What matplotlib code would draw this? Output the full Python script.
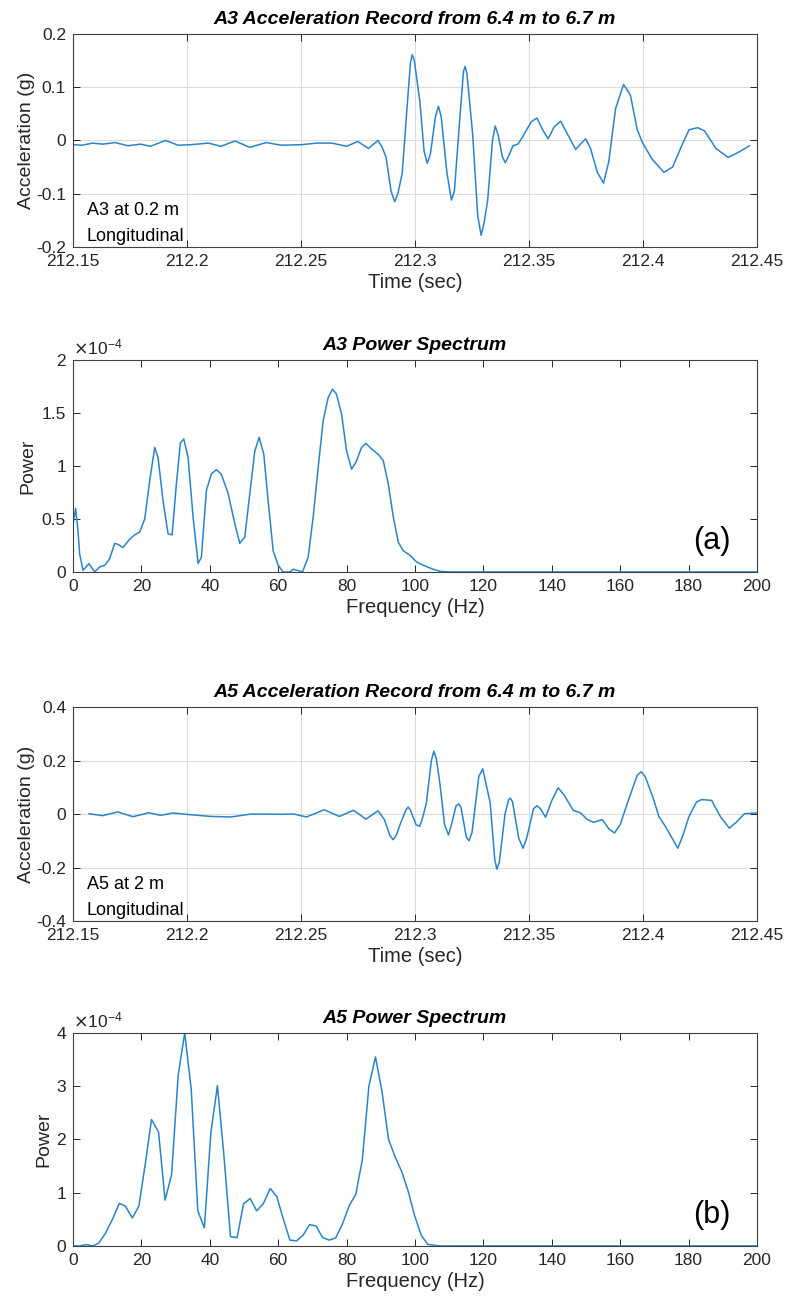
import numpy as np
import matplotlib.pyplot as plt

plt.rcParams['font.family'] = ['Liberation Sans', 'DejaVu Sans']
plt.rcParams['axes.unicode_minus'] = False

# A3 acceleration record (time in s, acceleration in g)
a3_t = [212.1500, 212.1540, 212.1586, 212.1630, 212.1685, 212.1741, 212.1796, 212.1840,
        212.1906, 212.1961, 212.2017, 212.2094, 212.2149, 212.2211, 212.2275, 212.2348,
        212.2414, 212.2502, 212.2568, 212.2635, 212.2701, 212.2749, 212.2796, 212.2838,
        212.2855, 212.2873, 212.2895, 212.2911, 212.2925, 212.2944, 212.2965, 212.2980,
        212.2988, 212.2997, 212.3021, 212.3040, 212.3054, 212.3068, 212.3090, 212.3103,
        212.3115, 212.3140, 212.3160, 212.3173, 212.3200, 212.3213, 212.3220, 212.3228,
        212.3253, 212.3275, 212.3290, 212.3303, 212.3319, 212.3340, 212.3352, 212.3365,
        212.3383, 212.3396, 212.3410, 212.3430, 212.3451, 212.3470, 212.3510, 212.3535,
        212.3560, 212.3584, 212.3610, 212.3639, 212.3665, 212.3705, 212.3730, 212.3749,
        212.3770, 212.3800, 212.3827, 212.3850, 212.3880, 212.3915, 212.3945, 212.3975,
        212.3999, 212.4040, 212.4092, 212.4130, 212.4170, 212.4202, 212.4240, 212.4270,
        212.4320, 212.4374, 212.4420, 212.4467]
a3_acc = [-0.008, -0.009, -0.005, -0.007, -0.004, -0.010, -0.007, -0.011,
          0.000, -0.009, -0.008, -0.005, -0.011, -0.001, -0.013, -0.004,
          -0.009, -0.008, -0.005, -0.005, -0.011, -0.002, -0.015, 0.000,
          -0.012, -0.031, -0.095, -0.115, -0.100, -0.062, 0.060, 0.145,
          0.161, 0.150, 0.075, -0.020, -0.043, -0.025, 0.045, 0.064,
          0.045, -0.060, -0.112, -0.095, 0.060, 0.130, 0.139, 0.125,
          0.012, -0.140, -0.178, -0.155, -0.112, 0.000, 0.027, 0.010,
          -0.030, -0.042, -0.030, -0.010, -0.007, 0.005, 0.035, 0.042,
          0.020, 0.003, 0.025, 0.036, 0.015, -0.017, -0.005, 0.003,
          -0.015, -0.060, -0.080, -0.040, 0.060, 0.105, 0.085, 0.020,
          -0.005, -0.035, -0.060, -0.050, -0.010, 0.020, 0.024, 0.018,
          -0.015, -0.032, -0.022, -0.010]

# A3 power spectrum (Hz, x1e-4)
a3_f = [0.0, 0.78, 1.46, 1.95, 2.93, 3.9, 4.68, 5.37, 6.34, 7.8, 9.27, 10.73, 12.2, 13.17,
        14.63, 16.59, 18.05, 19.5, 20.98, 22.44, 23.9, 24.88, 26.34, 27.8, 28.98, 30.24,
        31.41, 32.39, 33.66, 35.12, 36.59, 37.56, 39.02, 40.49, 41.95, 43.41, 45.37, 47.32,
        48.78, 50.24, 51.71, 53.17, 54.44, 55.8, 57.07, 58.54, 60.0, 61.46, 63.41, 64.39,
        65.56, 67.12, 68.78, 70.24, 71.71, 73.17, 74.63, 75.9, 77.07, 78.54, 80.0, 81.46,
        82.73, 84.39, 85.66, 87.32, 89.27, 90.73, 92.2, 93.66, 95.12, 96.59, 98.54, 100.49,
        102.44, 105.37, 107.32, 110.24, 200.0]
a3_pow = [0.44, 0.60, 0.39, 0.17, 0.016, 0.05, 0.078, 0.047, 0.0, 0.047, 0.063, 0.125, 0.27, 0.26,
          0.23, 0.31, 0.35, 0.376, 0.50, 0.86, 1.175, 1.08, 0.67, 0.36, 0.35, 0.83,
          1.22, 1.254, 1.08, 0.52, 0.08, 0.14, 0.77, 0.925, 0.966, 0.92, 0.74, 0.455,
          0.27, 0.33, 0.74, 1.14, 1.27, 1.11, 0.67, 0.20, 0.063, 0.0, 0.0, 0.025,
          0.016, 0.0, 0.14, 0.52, 0.99, 1.43, 1.646, 1.724, 1.677, 1.49, 1.144, 0.97,
          1.034, 1.175, 1.213, 1.16, 1.11, 1.05, 0.83, 0.52, 0.28, 0.20, 0.157, 0.094,
          0.063, 0.025, 0.006, 0.0, 0.0]

# A5 acceleration record
a5_t = [212.1571, 212.1630, 212.1696, 212.1763, 212.1833, 212.1884, 212.1939, 212.1994,
        212.2105, 212.2193, 212.2281, 212.2414, 212.2469, 212.2524, 212.2602, 212.2668,
        212.2730, 212.2785, 212.2838, 212.2866, 212.2890, 212.2904, 212.2918, 212.2937,
        212.2960, 212.2970, 212.2980, 212.3005, 212.3021, 212.3035, 212.3050, 212.3072,
        212.3083, 212.3094, 212.3109, 212.3130, 212.3147, 212.3160, 212.3180, 212.3191,
        212.3202, 212.3225, 212.3237, 212.3250, 212.3280, 212.3297, 212.3310, 212.3330,
        212.3350, 212.3359, 212.3370, 212.3395, 212.3410, 212.3418, 212.3428, 212.3455,
        212.3474, 212.3490, 212.3520, 212.3535, 212.3550, 212.3573, 212.3600, 212.3628,
        212.3655, 212.3694, 212.3727, 212.3755, 212.3783, 212.3822, 212.3850, 212.3875,
        212.3900, 212.3937, 212.3975, 212.3992, 212.4010, 212.4047, 212.4070, 212.4096,
        212.4153, 212.4175, 212.4202, 212.4235, 212.4257, 212.4301, 212.4340, 212.4379,
        212.4410, 212.4445, 212.4500]
a5_acc = [0.001, -0.006, 0.008, -0.010, 0.005, -0.005, 0.004, -0.001,
          -0.009, -0.011, 0.000, -0.001, 0.000, -0.011, 0.016, -0.009,
          0.014, -0.019, 0.012, -0.021, -0.080, -0.096, -0.080, -0.034,
          0.015, 0.026, 0.015, -0.040, -0.046, -0.010, 0.041, 0.200,
          0.235, 0.205, 0.116, -0.040, -0.078, -0.040, 0.030, 0.038,
          0.025, -0.085, -0.100, -0.070, 0.140, 0.169, 0.120, 0.041,
          -0.170, -0.206, -0.180, 0.000, 0.052, 0.060, 0.045, -0.090,
          -0.128, -0.090, 0.020, 0.031, 0.020, -0.012, 0.050, 0.098,
          0.070, 0.014, 0.004, -0.020, -0.031, -0.021, -0.055, -0.071,
          -0.040, 0.054, 0.145, 0.158, 0.140, 0.054, -0.010, -0.043,
          -0.128, -0.080, -0.009, 0.045, 0.054, 0.051, -0.010, -0.053,
          -0.030, 0.001, 0.004]

# A5 power spectrum (Hz, x1e-4)
a5_f = [0.0, 2.06, 3.83, 5.74, 7.51, 9.42, 11.63, 13.54, 15.31, 17.37, 19.28, 21.19, 22.96,
        25.02, 26.93, 28.84, 30.76, 32.67, 34.58, 36.5, 38.41, 40.32, 42.24, 44.15, 46.06,
        47.98, 49.89, 51.8, 53.72, 55.63, 57.69, 59.6, 61.52, 63.43, 65.34, 67.26, 69.17,
        71.08, 73.0, 74.91, 76.82, 78.88, 80.79, 82.71, 84.62, 86.53, 88.45, 90.36, 92.27,
        94.19, 96.1, 98.01, 99.93, 101.84, 103.75, 105.67, 107.58, 200.0]
a5_pow = [0.0, 0.0, 0.025, 0.0, 0.05, 0.23, 0.51, 0.80, 0.75, 0.525, 0.75, 1.56, 2.375,
          2.14, 0.86, 1.34, 3.2, 4.0, 2.94, 0.66, 0.34, 2.125, 3.01, 1.69, 0.175,
          0.156, 0.79, 0.89, 0.66, 0.79, 1.08, 0.925, 0.5, 0.11, 0.094, 0.2, 0.4,
          0.375, 0.156, 0.11, 0.15, 0.425, 0.76, 0.97, 1.625, 3.0, 3.55, 2.9, 2.0,
          1.675, 1.4, 1.03, 0.5625, 0.2, 0.03, 0.012, 0.0, 0.0]

time_ticks = [212.15, 212.2, 212.25, 212.3, 212.35, 212.4, 212.45]
time_labels = ['212.15', '212.2', '212.25', '212.3', '212.35', '212.4', '212.45']
freq_ticks = [0, 20, 40, 60, 80, 100, 120, 140, 160, 180, 200]

line_c = '#2a84cc'
txt_c = '#262626'

fig = plt.figure(figsize=(7.88, 13.10), dpi=100)
L, W = 0.0926, 0.868
ax1 = fig.add_axes([L, 0.8115, W, 0.1626])
ax2 = fig.add_axes([L, 0.5634, W, 0.1618])
ax3 = fig.add_axes([L, 0.2969, W, 0.1634])
ax4 = fig.add_axes([L, 0.0489, W, 0.1626])


def style(ax, grid):
    for s in ax.spines.values():
        s.set_color('#404040')
        s.set_linewidth(0.8)
    ax.tick_params(direction='in', top=True, right=True, length=5, width=0.7,
                   labelsize=12.5, colors=txt_c, pad=5)
    if grid:
        ax.grid(True, color='#dcdcdc', linewidth=0.8)
        ax.set_axisbelow(True)


tfont = dict(fontsize=14, fontweight='bold', style='italic')

# panel 1
ax1.plot(a3_t, a3_acc, color=line_c, lw=1.1)
ax1.set_xlim(212.15, 212.45)
ax1.set_ylim(-0.2, 0.2)
ax1.set_xticks(time_ticks)
ax1.set_xticklabels(time_labels)
ax1.set_yticks([-0.2, -0.1, 0, 0.1, 0.2])
ax1.set_yticklabels(['-0.2', '-0.1', '0', '0.1', '0.2'])
style(ax1, True)
ax1.set_title('A3 Acceleration Record from 6.4 m to 6.7 m', pad=7, **tfont)
ax1.set_xlabel('Time (sec)', fontsize=14.5, color=txt_c, labelpad=3)
ax1.set_ylabel('Acceleration (g)', fontsize=14, color=txt_c, labelpad=1)
ax1.text(0.02, 0.17, 'A3 at 0.2 m', transform=ax1.transAxes, fontsize=13,
         va='center', color='black')
ax1.text(0.02, 0.05, 'Longitudinal', transform=ax1.transAxes, fontsize=13,
         va='center', color='black')

# panel 2
ax2.plot(a3_f, a3_pow, color=line_c, lw=1.1)
ax2.set_xlim(0, 200)
ax2.set_ylim(0, 2)
ax2.set_xticks(freq_ticks)
ax2.set_yticks([0, 0.5, 1, 1.5, 2])
ax2.set_yticklabels(['0', '0.5', '1', '1.5', '2'])
style(ax2, False)
ax2.set_title('A3 Power Spectrum', pad=7, **tfont)
ax2.set_xlabel('Frequency (Hz)', fontsize=14.5, color=txt_c, labelpad=3)
ax2.set_ylabel('Power', fontsize=14, color=txt_c, labelpad=4)
ax2.text(0.0, 1.012, r'$\times\mathregular{10^{-4}}$', transform=ax2.transAxes,
         fontsize=12.5, color=txt_c, ha='left', va='bottom')
ax2.text(0.934, 0.146, '(a)', transform=ax2.transAxes, fontsize=22,
         ha='center', va='center', color='black')

# panel 3
ax3.plot(a5_t, a5_acc, color=line_c, lw=1.1)
ax3.set_xlim(212.15, 212.45)
ax3.set_ylim(-0.4, 0.4)
ax3.set_xticks(time_ticks)
ax3.set_xticklabels(time_labels)
ax3.set_yticks([-0.4, -0.2, 0, 0.2, 0.4])
ax3.set_yticklabels(['-0.4', '-0.2', '0', '0.2', '0.4'])
style(ax3, True)
ax3.set_title('A5 Acceleration Record from 6.4 m to 6.7 m', pad=7, **tfont)
ax3.set_xlabel('Time (sec)', fontsize=14.5, color=txt_c, labelpad=3)
ax3.set_ylabel('Acceleration (g)', fontsize=14, color=txt_c, labelpad=1)
ax3.text(0.02, 0.17, 'A5 at 2 m', transform=ax3.transAxes, fontsize=13,
         va='center', color='black')
ax3.text(0.02, 0.05, 'Longitudinal', transform=ax3.transAxes, fontsize=13,
         va='center', color='black')

# panel 4
ax4.plot(a5_f, a5_pow, color=line_c, lw=1.1)
ax4.set_xlim(0, 200)
ax4.set_ylim(0, 4)
ax4.set_xticks(freq_ticks)
ax4.set_yticks([0, 1, 2, 3, 4])
style(ax4, False)
ax4.set_title('A5 Power Spectrum', pad=7, **tfont)
ax4.set_xlabel('Frequency (Hz)', fontsize=14.5, color=txt_c, labelpad=3)
ax4.set_ylabel('Power', fontsize=14, color=txt_c, labelpad=3)
ax4.text(0.0, 1.012, r'$\times\mathregular{10^{-4}}$', transform=ax4.transAxes,
         fontsize=12.5, color=txt_c, ha='left', va='bottom')
ax4.text(0.934, 0.146, '(b)', transform=ax4.transAxes, fontsize=22,
         ha='center', va='center', color='black')

fig.savefig('out.png', dpi=100)
